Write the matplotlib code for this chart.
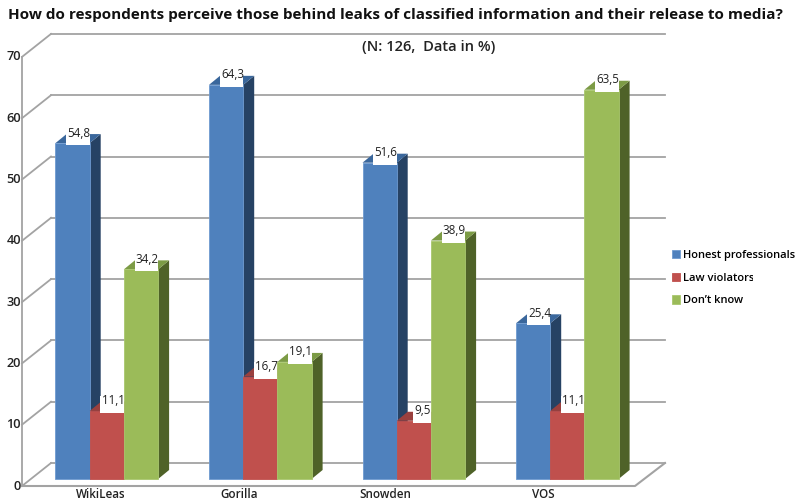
import numpy as np
import matplotlib
matplotlib.use('Agg')
import matplotlib.pyplot as plt
from matplotlib.patches import Rectangle
from matplotlib.transforms import Bbox

categories = ['WikiLeas', 'Gorilla', 'Snowden', 'VOS']
honest = [54.8, 64.3, 51.6, 25.4]
violators = [11.1, 16.7, 9.5, 11.1]
dont_know = [34.2, 19.1, 38.9, 63.5]
series_names = ['Honest professionals', 'Law violators', 'Don\u2019t know']
y_ticks = [0, 10, 20, 30, 40, 50, 60, 70]

title = 'How do respondents perceive those behind leaks of classified information and their release to media?'
subtitle = '(N: 126,  Data in %)'

W, H = 799, 504
PX_X = 153.5   # pixels per category
PX_Y = 6.13    # pixels per percent
X0, Y0 = 106.8, 479.0   # pixel of first group centre / bar base
BAR = 34.2 / PX_X
DEPTH_X = 11.0 / PX_X
DEPTH_Y = 9.0 / PX_Y

face_cols = ['#4F81BD', '#C0504D', '#9BBB59']
edge_cols = ['#6E9AD0', '#C0504D', '#A9C76E']
side_cols = ['#264264', '#8E3B39', '#4F6228']
top_cols = ['#3A679C', '#9A403E', '#7C9B45']
label_x = [101, 239, 385, 543]


def gx(px):
    return (px - X0) / PX_X


def gy(px):
    return (Y0 - px) / PX_Y


def clip_right(text, px):
    # the original cuts some labels off at the right
    text.set_clip_box(Bbox([[0, 0], [px, H]]))
    text.set_clip_on(True)


fig = plt.figure(figsize=(W / 100, H / 100), dpi=100)
ax = fig.add_axes([0, 0, 1, 1])
ax.set_xlim(gx(0), gx(W))
ax.set_ylim(gy(H), gy(0))
ax.axis('off')

font = ['Open Sans', 'DejaVu Sans']
grid = '#A3A3A3'

# walls and gridlines
wall_l, wall_b, wall_r = gx(22), gx(51), gx(665)
floor_r = gx(635)
for t in y_ticks:
    fy = t + gy(486)
    by = t + gy(463)
    ax.plot([wall_l, wall_b], [fy, by], color=grid, lw=1.3, zorder=1)
    ax.plot([wall_b, wall_r], [by, by], color=grid, lw=1.3, zorder=1)
    ax.text(wall_l - 1 / PX_X, fy, str(t), ha='right', va='center', fontsize=9.2,
            fontweight='semibold', color='#222222', family=font)
ax.plot([wall_l, wall_l], [gy(486), 70 + gy(486)], color=grid, lw=1.3, zorder=1)
ax.plot([wall_l, floor_r, wall_r], [gy(486), gy(486), gy(463)], color=grid, lw=1.5, zorder=1)

# bars, one series at a time so the next one covers the labels
x_idx = np.arange(len(categories))
handles = []
for s, vals in enumerate([honest, violators, dont_know]):
    z = 3 + s
    left = x_idx + (s - 1.5) * BAR
    right = left + BAR
    for l, r, v in zip(left, right, vals):
        ax.fill([r, r + DEPTH_X, r + DEPTH_X, r], [0, DEPTH_Y, v + DEPTH_Y, v],
                color=side_cols[s], lw=0, zorder=z)
        ax.fill([l, l + DEPTH_X, r + DEPTH_X, r], [v, v + DEPTH_Y, v + DEPTH_Y, v],
                color=top_cols[s], lw=0, zorder=z)
    b = ax.bar(left, vals, BAR, align='edge', color=face_cols[s], edgecolor=edge_cols[s],
               linewidth=0.6, zorder=z + 0.1, label=series_names[s])
    handles.append(b)
    for r, v in zip(right, vals):
        txt = f'{v:.1f}'.replace('.', ',')
        box_w = (23.5 if v >= 10 else 18) / PX_X
        ax.add_patch(Rectangle((r - box_w, v - 2 / PX_Y), box_w, 17 / PX_Y, fc='white', ec='none',
                               zorder=z + 0.2))
        ax.text(r - box_w / 2 + 1 / PX_X, v + 10 / PX_Y, txt, ha='center', va='center', fontsize=8.4,
                color='#222222', family=font, zorder=z + 0.3)

for px, name in zip(label_x, categories):
    t = ax.text(gx(px), gy(495), name, ha='center', va='center', fontsize=8.4,
                fontweight='semibold', color='#222222', family=font)
    if name == 'WikiLeas':
        clip_right(t, 123.5)
    elif name == 'Gorilla':
        clip_right(t, 257)

ax.text(gx(8), gy(15), title, ha='left', va='center', fontsize=11.03, fontweight='bold',
        color='#111111', family=font)
ax.text(gx(429), gy(47), subtitle, ha='center', va='center', fontsize=10.6, fontweight='semibold',
        color='#222222', family=font)

leg = ax.legend(handles=handles, loc='upper left', bbox_to_anchor=(671.5 / W, 1 - 250 / H),
                frameon=False, handlelength=0.75, handleheight=0.75, handletextpad=0.3,
                labelspacing=1.05, borderpad=0, borderaxespad=0,
                prop={'family': font, 'size': 8.0, 'weight': 'semibold'})
clip_right(leg.get_texts()[1], 753)

fig.savefig('out.png', dpi=100)
